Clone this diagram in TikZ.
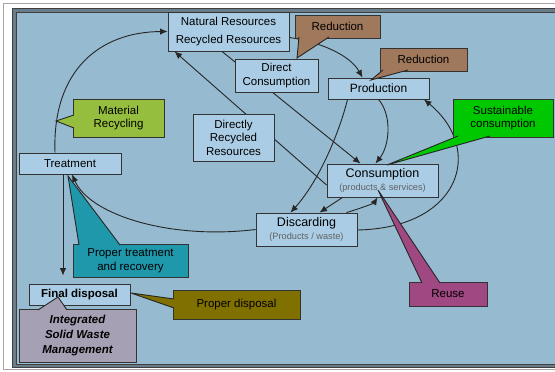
\documentclass[tikz,border=0pt]{standalone}
\usepackage{fontspec}
\setmainfont{Liberation Sans}
\usetikzlibrary{arrows.meta}
\definecolor{panel}{RGB}{150,186,207}
\definecolor{rim}{RGB}{104,124,138}
\definecolor{boxblue}{RGB}{170,205,229}
\definecolor{cbrown}{RGB}{160,121,92}
\definecolor{cgreen}{RGB}{0,200,0}
\definecolor{colive}{RGB}{150,190,62}
\definecolor{ccyan}{RGB}{32,152,172}
\definecolor{cmud}{RGB}{128,112,0}
\definecolor{cpink}{RGB}{160,72,130}
\definecolor{cgrey}{RGB}{166,160,180}
\newcommand{\subtxt}[1]{{\color{black!62}\fontsize{9.2}{10}\selectfont #1}}
\tikzset{
  box/.style={draw=black!80, fill=boxblue, line width=0.9pt, inner sep=0pt,
    align=center, font=\fontsize{11.5}{13.5}\selectfont},
  callout/.style={draw=black!80, line width=0.9pt, inner sep=0pt,
    align=center, font=\fontsize{11.5}{13.5}\selectfont},
  arr/.style={-{Latex[length=7.5pt, width=6.5pt]}, line width=0.9pt, black!85},
  link/.style={line width=0.9pt, black!85}
}
\begin{document}
\begin{tikzpicture}[x=1pt, y=-1pt]
            \useasboundingbox (0, 0) rectangle (555, 372);
            % frame and panel
            \draw [black!35, line width=1pt] (3.5, 3.5) rectangle (560, 369.5);
            \filldraw [draw=black!75, fill=rim, line width=0.8pt] (12.5, 8.5) rectangle (562, 367);
            \filldraw [draw=black!75, fill=panel, line width=0.8pt] (16, 12) rectangle (562, 364);
            % boxes
            \node [box, minimum width=121pt, minimum height=39pt] (nr) at (228.5, 31.5)
                {Natural Resources\\[5pt]Recycled Resources};
            \node [box, minimum width=101pt, minimum height=21pt, font=\fontsize{12}{14}\selectfont] (prod) at (378.5, 88.5) {Production};
            \node [box, minimum width=111pt, minimum height=33pt] (cons) at (382.5, 180.5)
                {{\fontsize{12.5}{14}\selectfont Consumption}\\[-1pt]\subtxt{(products \& services)}};
            \node [box, minimum width=101pt, minimum height=33pt] (disc) at (306.5, 229.5)
                {{\fontsize{12.5}{14}\selectfont Discarding}\\[-1pt]\subtxt{(Products / waste)}};
            \node [box, minimum width=102pt, minimum height=21pt] (treat) at (70, 163.5) {Treatment};
            \node [box, minimum width=101pt, minimum height=21pt, font=\fontsize{11.5}{13}\selectfont\bfseries] (final) at (79.5, 294.5) {Final disposal};
            % straight links, the label boxes go on top
            \draw [arr] ([xshift=-6.5pt]nr.south) -- ([xshift=-22pt]cons.north);
            \draw [arr] ([yshift=-4.5pt]cons.west) -- ([xshift=7pt]nr.south west);
            \node [box, minimum width=83pt, minimum height=33pt] (dc) at (276.5, 75.5)
                {Direct\\Consumption};
            \node [box, minimum width=81pt, minimum height=47pt] (drr) at (233.5, 137.5)
                {Directly\\Recycled\\Resources};
            % connectors
            \draw [arr] ([xshift=-15pt]treat.north) .. controls (52, 70) and (100, 32) .. (nr.west);
            \draw [arr] (disc.west) .. controls (170, 240) and (90, 215) .. ([xshift=2pt]treat.south);
            \draw [arr] ([yshift=-0.5pt]disc.east) .. controls (460, 228) and (485, 150) .. ([xshift=45.5pt]prod.south);
            \draw [arr] ([yshift=-6pt]nr.east) .. controls (320, 42) and (350, 55) .. ([xshift=-16pt]prod.north);
            \draw [arr] (prod.south) .. controls (392, 115) and (390, 145) .. ([xshift=-7pt]cons.north);
            \draw [arr] ([xshift=-31pt]prod.south) .. controls (340, 130) and (320, 180) .. ([xshift=-16pt]disc.north);
            \draw [arr] ([xshift=-40pt]cons.south) -- ([xshift=13pt]disc.north);
            \draw [arr] ([xshift=40pt]disc.north) .. controls (362, 208) and (374, 203) .. ([xshift=-5pt]cons.south);
            \draw [arr, shorten >=8pt] ([xshift=-7pt]treat.south) -- ([xshift=-16.5pt]final.north);
            % callouts
            \node [callout, fill=cbrown, minimum width=85pt, minimum height=23pt] (red1) at (337.5, 26.5) {Reduction};
            \fill [cbrown] (299, 37) -- (297, 58) -- (329, 37) -- cycle;
            \draw [link] (299, 37) -- (297, 58) -- (329, 37);
            \node [callout, fill=cbrown, minimum width=87pt, minimum height=23pt] (red2) at (423.5, 59.5) {Reduction};
            \fill [cbrown] (383, 70) -- (371, 80) -- (408, 70) -- cycle;
            \draw [link] (383, 70) -- (371, 80) -- (408, 70);
            \node [callout, fill=cgreen, minimum width=100pt, minimum height=38pt] (sust) at (503, 118) {Sustainable\\consumption};
            \fill [cgreen] (458, 136) -- (387, 165) -- (490, 136) -- cycle;
            \draw [link] (458, 136) -- (387, 165) -- (490, 136);
            \node [callout, fill=cpink, minimum width=78pt, minimum height=24pt] (reuse) at (448, 294) {Reuse};
            \fill [cpink] (422, 283) -- (378, 190) -- (440, 283) -- cycle;
            \draw [link] (422, 283) -- (378, 190) -- (440, 283);
            \node [callout, fill=colive, minimum width=91pt, minimum height=38pt] (matrec) at (118.5, 118) {Material\\Recycling};
            \fill [colive] (74, 115) -- (56, 121) -- (74, 128) -- cycle;
            \draw [link] (74, 115) -- (56, 121) -- (74, 128);
            \node [callout, fill=ccyan, minimum width=115pt, minimum height=33pt] (ptr) at (130.5, 260.5) {Proper treatment\\and recovery};
            \fill [ccyan] (79, 245) -- (68, 176) -- (120, 245) -- cycle;
            \draw [link] (79, 245) -- (68, 176) -- (120, 245);
            \node [callout, fill=cmud, minimum width=127pt, minimum height=29pt] (pd) at (236.5, 304.5) {Proper disposal};
            \fill [cmud] (174, 299) -- (131, 293) -- (174, 308) -- cycle;
            \draw [link] (174, 299) -- (131, 293) -- (174, 308);
            \node [callout, fill=cgrey, minimum width=117pt, minimum height=53pt, font=\fontsize{11.5}{15}\selectfont\bfseries\itshape] (iswm) at (77.5, 335.5) {Integrated\\Solid Waste\\Management};
            \fill [cgrey] (38, 310) -- (58, 297) -- (67, 310) -- cycle;
            \draw [link] (38, 310) -- (58, 297) -- (67, 310);
        \end{tikzpicture}
\end{document}
